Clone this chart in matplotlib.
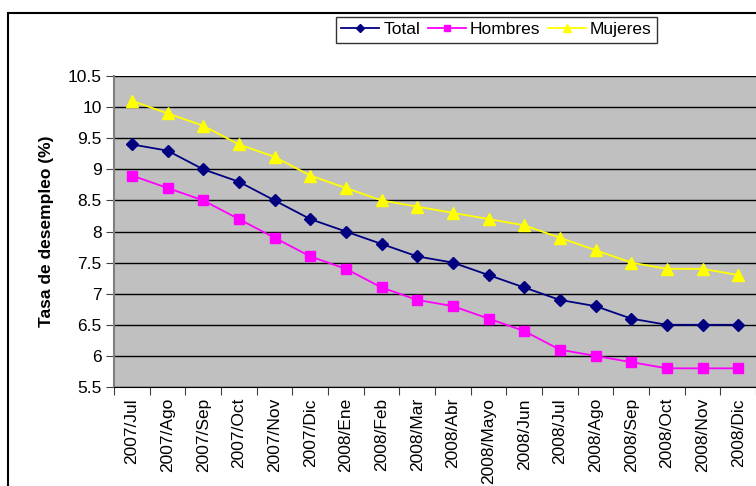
import matplotlib
matplotlib.use("Agg")
import matplotlib.pyplot as plt
from matplotlib.patches import Rectangle
import numpy as np

plt.rcParams['font.family'] = ['Liberation Sans', 'DejaVu Sans']

meses = ['2007/Jul', '2007/Ago', '2007/Sep', '2007/Oct', '2007/Nov', '2007/Dic',
         '2008/Ene', '2008/Feb', '2008/Mar', '2008/Abr', '2008/Mayo', '2008/Jun',
         '2008/Jul', '2008/Ago', '2008/Sep', '2008/Oct', '2008/Nov', '2008/Dic']
total = [9.4, 9.3, 9.0, 8.8, 8.5, 8.2, 8.0, 7.8, 7.6, 7.5, 7.3, 7.1, 6.9, 6.8, 6.6, 6.5, 6.5, 6.5]
hombres = [8.9, 8.7, 8.5, 8.2, 7.9, 7.6, 7.4, 7.1, 6.9, 6.8, 6.6, 6.4, 6.1, 6.0, 5.9, 5.8, 5.8, 5.8]
mujeres = [10.1, 9.9, 9.7, 9.4, 9.2, 8.9, 8.7, 8.5, 8.4, 8.3, 8.2, 8.1, 7.9, 7.7, 7.5, 7.4, 7.4, 7.3]
y_ticks = [5.5, 6, 6.5, 7, 7.5, 8, 8.5, 9, 9.5, 10, 10.5]

fig = plt.figure(figsize=(7.56, 4.86), dpi=100)
ax = fig.add_axes([114 / 756, 1 - 387 / 486, 642 / 756, 311 / 486])
ax.set_facecolor('#C0C0C0')

x = np.arange(len(meses))
ax.plot(x, total, color='#000080', marker='D', markersize=6, lw=1.3, label='Total')
ax.plot(x, hombres, color='#FF00FF', marker='s', markersize=6.5, lw=1.3, label='Hombres')
ax.plot(x, mujeres, color='#FFFF00', marker='^', markersize=8, lw=1.3, label='Mujeres')

ax.set_xlim(-0.5, len(meses) - 0.5)
ax.set_ylim(5.5, 10.5)
ax.set_yticks(y_ticks)
ax.set_yticklabels([('%g' % v) for v in y_ticks], fontsize=12.5)
ax.yaxis.grid(True, color='black', lw=1)
ax.set_axisbelow(True)

# category boundaries get the ticks, centres get the labels
ax.set_xticks(np.arange(len(meses) + 1) - 0.5)
ax.set_xticklabels([])
ax.set_xticks(x, minor=True)
ax.set_xticklabels(meses, minor=True, rotation=90, fontsize=12.5, va='top')
ax.tick_params(axis='x', which='minor', length=0, pad=8)
ax.tick_params(axis='x', which='major', length=6, direction='out', color='#404040')
ax.tick_params(axis='y', length=6, direction='out', color='#404040', pad=3)

for s in ['top', 'right']:
    ax.spines[s].set_visible(False)
ax.spines['left'].set_color('#808080')
ax.spines['left'].set_linewidth(1.5)
ax.spines['bottom'].set_color('black')

ax.set_ylabel('Tasa de desempleo (%)', fontsize=12.5, fontweight='bold', labelpad=10)

leg = fig.legend(loc='upper left', bbox_to_anchor=(336 / 756, 1 - 17 / 486), ncol=3,
                 fontsize=12.5, frameon=True, fancybox=False, edgecolor='black',
                 handlelength=2.2, handletextpad=0.25, columnspacing=0.4,
                 borderpad=0.3, borderaxespad=0, markerscale=0.7)
leg.get_frame().set_linewidth(1)

fig.patches.append(Rectangle((8 / 756, -0.1), 1.2, 1.1 - 13 / 486, transform=fig.transFigure,
                             fill=False, edgecolor='black', lw=1.5))

fig.savefig('out.png', dpi=100)
